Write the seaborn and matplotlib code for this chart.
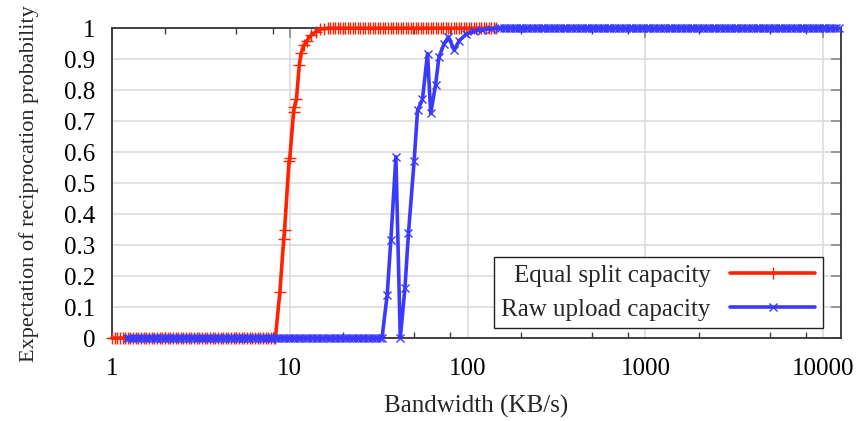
#!/usr/bin/env python3
"""Expectation of reciprocation probability vs. bandwidth (gnuplot-style look)."""

import matplotlib

matplotlib.use("Agg")
import matplotlib.pyplot as plt
import numpy as np
import pandas as pd
import seaborn as sns
from matplotlib.ticker import FixedLocator, FixedFormatter, NullFormatter

# ---------------------------------------------------------------------------
# Data
# ---------------------------------------------------------------------------

# Equal split capacity: flat 0 until ~8.3 KB/s, steep rise, flat 1 up to ~145 KB/s
red_zero_x = np.geomspace(1.0, 8.1, 62)          # bandwidth sample grid, y = 0
red_rise_x = [8.3, 8.8, 9.25, 9.35, 9.9, 10.0, 10.5, 10.6, 10.9, 11.3, 11.6,
              12.0, 12.5, 13.2, 14.0, 14.8, 15.5]
red_rise_y = [0.0, 0.15, 0.32, 0.35, 0.57, 0.58, 0.73, 0.745, 0.77, 0.88, 0.92,
              0.945, 0.96, 0.978, 0.988, 0.996, 0.999]
red_one_x = np.geomspace(16.3, 145.0, 68)        # bandwidth sample grid, y = 1

# Raw upload capacity: flat 0 until ~33 KB/s, noisy rise, flat 1 up to ~12000 KB/s
blue_zero_x = np.geomspace(1.21, 32.0, 100)      # y = 0
blue_rise_x = [33, 35.3, 37, 39.5, 41.8, 44.4, 46.5, 50, 52.3, 55.7, 59.5, 62,
               66, 69, 73.8, 78, 84, 89.7, 98, 108, 120, 135]
blue_rise_y = [0.0, 0.14, 0.316, 0.585, 0.0, 0.16, 0.34, 0.57, 0.735, 0.77,
               0.918, 0.725, 0.816, 0.907, 0.95, 0.972, 0.929, 0.96, 0.98,
               0.99, 0.995, 0.998]
blue_one_x = np.geomspace(150.0, 12200.0, 140)   # y = 1

X_TICKS = [1, 10, 100, 1000, 10000]
Y_TICKS = [0, 0.1, 0.2, 0.3, 0.4, 0.5, 0.6, 0.7, 0.8, 0.9, 1]
Y_TICK_LABELS = ["0", "0.1", "0.2", "0.3", "0.4", "0.5", "0.6", "0.7", "0.8", "0.9", "1"]


def build_series(zero_x, rise_x, rise_y, one_x, name):
    x = np.concatenate([zero_x, rise_x, one_x])
    y = np.concatenate([np.zeros(len(zero_x)), rise_y, np.ones(len(one_x))])
    return pd.DataFrame({"bw": x, "p": y, "series": name})


def main():
    red = build_series(red_zero_x, red_rise_x, red_rise_y, red_one_x,
                       "Equal split capacity")
    blue = build_series(blue_zero_x, blue_rise_x, blue_rise_y, blue_one_x,
                        "Raw upload capacity")

    sns.set_theme(style="white")
    plt.rcParams["font.family"] = ["Liberation Serif", "DejaVu Serif"]
    fs = 18

    fig = plt.figure(figsize=(8.61, 4.21), dpi=100)
    ax = fig.add_axes([0.130, 0.197, 0.847, 0.736])

    red_c = "#ff2200"
    blue_c = "#3a3aff"

    sns.lineplot(data=red, x="bw", y="p", ax=ax, color=red_c, lw=2.6,
                 marker="+", markersize=8.5, markeredgewidth=1.0,
                 markeredgecolor=red_c, clip_on=False, zorder=3,
                 label="Equal split capacity", sort=False)
    sns.lineplot(data=blue, x="bw", y="p", ax=ax, color=blue_c, lw=2.6,
                 marker="x", markersize=6, markeredgewidth=1.0,
                 markeredgecolor=blue_c, clip_on=False, zorder=4,
                 label="Raw upload capacity", sort=False)

    ax.set_xscale("log")
    ax.set_xlim(1, 12600)
    ax.set_ylim(0, 1)

    # ticks: majors at decades, minors at 2, 5, 8 per decade (gnuplot look)
    ax.xaxis.set_major_locator(FixedLocator(X_TICKS))
    ax.xaxis.set_major_formatter(FixedFormatter([str(t) for t in X_TICKS]))
    minors = [m * 10 ** d for d in range(0, 5) for m in (2, 5, 8) if m * 10 ** d < 12600]
    ax.xaxis.set_minor_locator(FixedLocator(minors))
    ax.xaxis.set_minor_formatter(NullFormatter())
    ax.yaxis.set_major_locator(FixedLocator(Y_TICKS))
    ax.yaxis.set_major_formatter(FixedFormatter(Y_TICK_LABELS))

    ax.tick_params(axis="both", which="major", direction="in", length=7,
                   width=1.2, color="#8a8a8a", top=True, right=True,
                   labelsize=fs, labelcolor="black")
    ax.tick_params(axis="x", which="major", pad=14)
    ax.tick_params(axis="y", which="major", pad=12)
    ax.tick_params(axis="x", which="minor", direction="in", length=4,
                   width=1.0, color="#404040", top=True, bottom=True)

    ax.grid(True, which="major", color="#dadada", lw=1.1)
    ax.set_axisbelow(True)
    for sp in ax.spines.values():
        sp.set_color("#333333")
        sp.set_linewidth(1.3)
        sp.set_visible(True)

    ax.set_xlabel("Bandwidth (KB/s)", fontsize=fs, labelpad=11)
    ax.set_ylabel("Expectation of reciprocation probability", fontsize=16,
                  labelpad=18)

    leg = ax.legend(loc="lower right", bbox_to_anchor=(0.975, 0.032),
                    borderaxespad=0, markerfirst=False, frameon=True,
                    fancybox=False, framealpha=1, edgecolor="#222222",
                    fontsize=fs, handlelength=3.4, handletextpad=0.8,
                    labelspacing=0.45, borderpad=0.3)
    leg.get_frame().set_linewidth(1.0)
    for h in leg.legend_handles:
        h.set_markevery([1])  # single marker in the middle of the sample line

    fig.savefig("out.png", dpi=100)
    plt.close(fig)


if __name__ == "__main__":
    main()
